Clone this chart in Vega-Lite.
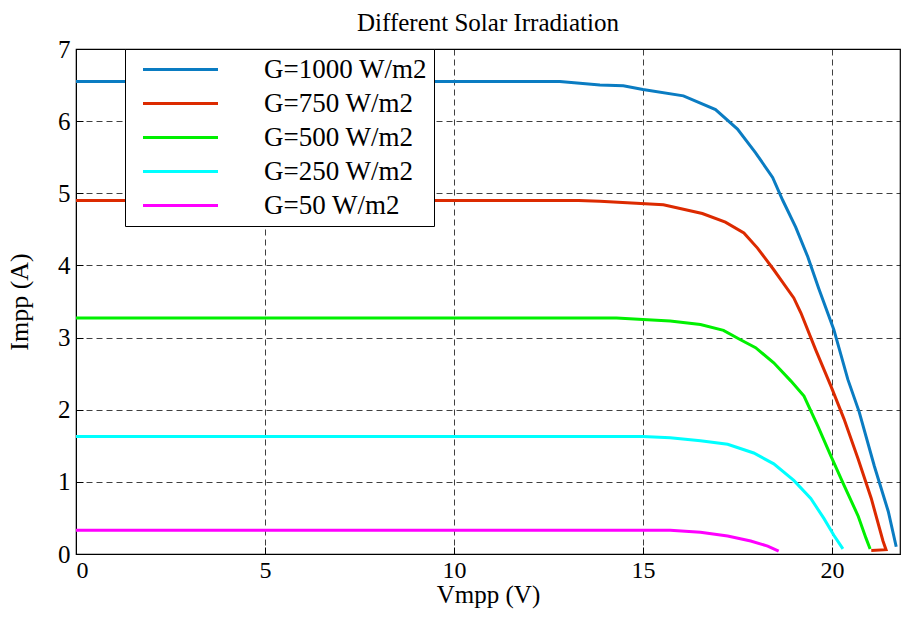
{
  "$schema": "https://vega.github.io/schema/vega-lite/v6.json",
  "width": 824,
  "height": 505,
  "autosize": {"type": "none"},
  "padding": {"left": 76, "top": 49, "right": 2, "bottom": 63},
  "background": "white",
  "config": {
    "font": "Liberation Serif",
    "view": {"stroke": "black", "strokeWidth": 1.2}
  },
  "title": {"text": "Different Solar Irradiation", "fontSize": 25, "font": "Liberation Serif", "fontWeight": "normal", "color": "black", "anchor": "middle", "frame": "group", "offset": 1},
  "data": {"values": [
    {"G":"G=1000 W/m2","order":0,"Vmpp":0,"Impp":6.55},
    {"G":"G=1000 W/m2","order":1,"Vmpp":5,"Impp":6.55},
    {"G":"G=1000 W/m2","order":2,"Vmpp":10,"Impp":6.55},
    {"G":"G=1000 W/m2","order":3,"Vmpp":12.8,"Impp":6.55},
    {"G":"G=1000 W/m2","order":4,"Vmpp":13.86,"Impp":6.5},
    {"G":"G=1000 W/m2","order":5,"Vmpp":14.48,"Impp":6.49},
    {"G":"G=1000 W/m2","order":6,"Vmpp":15.0,"Impp":6.44},
    {"G":"G=1000 W/m2","order":7,"Vmpp":16.07,"Impp":6.35},
    {"G":"G=1000 W/m2","order":8,"Vmpp":16.92,"Impp":6.16},
    {"G":"G=1000 W/m2","order":9,"Vmpp":17.5,"Impp":5.89},
    {"G":"G=1000 W/m2","order":10,"Vmpp":17.98,"Impp":5.56},
    {"G":"G=1000 W/m2","order":11,"Vmpp":18.43,"Impp":5.22},
    {"G":"G=1000 W/m2","order":12,"Vmpp":18.7,"Impp":4.9},
    {"G":"G=1000 W/m2","order":13,"Vmpp":19.04,"Impp":4.53},
    {"G":"G=1000 W/m2","order":14,"Vmpp":19.36,"Impp":4.12},
    {"G":"G=1000 W/m2","order":15,"Vmpp":19.65,"Impp":3.68},
    {"G":"G=1000 W/m2","order":16,"Vmpp":20.05,"Impp":3.11},
    {"G":"G=1000 W/m2","order":17,"Vmpp":20.42,"Impp":2.42},
    {"G":"G=1000 W/m2","order":18,"Vmpp":20.72,"Impp":1.97},
    {"G":"G=1000 W/m2","order":19,"Vmpp":21.12,"Impp":1.22},
    {"G":"G=1000 W/m2","order":20,"Vmpp":21.49,"Impp":0.59},
    {"G":"G=1000 W/m2","order":21,"Vmpp":21.7,"Impp":0.1},
    {"G":"G=750 W/m2","order":0,"Vmpp":0,"Impp":4.9},
    {"G":"G=750 W/m2","order":1,"Vmpp":10,"Impp":4.9},
    {"G":"G=750 W/m2","order":2,"Vmpp":13.3,"Impp":4.9},
    {"G":"G=750 W/m2","order":3,"Vmpp":13.86,"Impp":4.89},
    {"G":"G=750 W/m2","order":4,"Vmpp":15.54,"Impp":4.84},
    {"G":"G=750 W/m2","order":5,"Vmpp":16.57,"Impp":4.72},
    {"G":"G=750 W/m2","order":6,"Vmpp":17.18,"Impp":4.6},
    {"G":"G=750 W/m2","order":7,"Vmpp":17.67,"Impp":4.45},
    {"G":"G=750 W/m2","order":8,"Vmpp":18.03,"Impp":4.24},
    {"G":"G=750 W/m2","order":9,"Vmpp":18.46,"Impp":3.94},
    {"G":"G=750 W/m2","order":10,"Vmpp":18.65,"Impp":3.8},
    {"G":"G=750 W/m2","order":11,"Vmpp":18.99,"Impp":3.55},
    {"G":"G=750 W/m2","order":12,"Vmpp":19.18,"Impp":3.34},
    {"G":"G=750 W/m2","order":13,"Vmpp":19.57,"Impp":2.83},
    {"G":"G=750 W/m2","order":14,"Vmpp":19.97,"Impp":2.33},
    {"G":"G=750 W/m2","order":15,"Vmpp":20.32,"Impp":1.87},
    {"G":"G=750 W/m2","order":16,"Vmpp":20.69,"Impp":1.32},
    {"G":"G=750 W/m2","order":17,"Vmpp":21.04,"Impp":0.77},
    {"G":"G=750 W/m2","order":18,"Vmpp":21.35,"Impp":0.18},
    {"G":"G=750 W/m2","order":19,"Vmpp":21.43,"Impp":0.06},
    {"G":"G=750 W/m2","order":20,"Vmpp":21.04,"Impp":0.05},
    {"G":"G=500 W/m2","order":0,"Vmpp":0,"Impp":3.27},
    {"G":"G=500 W/m2","order":1,"Vmpp":10,"Impp":3.27},
    {"G":"G=500 W/m2","order":2,"Vmpp":14.3,"Impp":3.27},
    {"G":"G=500 W/m2","order":3,"Vmpp":15.0,"Impp":3.25},
    {"G":"G=500 W/m2","order":4,"Vmpp":15.72,"Impp":3.23},
    {"G":"G=500 W/m2","order":5,"Vmpp":16.52,"Impp":3.18},
    {"G":"G=500 W/m2","order":6,"Vmpp":17.13,"Impp":3.1},
    {"G":"G=500 W/m2","order":7,"Vmpp":17.58,"Impp":2.97},
    {"G":"G=500 W/m2","order":8,"Vmpp":17.98,"Impp":2.86},
    {"G":"G=500 W/m2","order":9,"Vmpp":18.46,"Impp":2.65},
    {"G":"G=500 W/m2","order":10,"Vmpp":18.91,"Impp":2.4},
    {"G":"G=500 W/m2","order":11,"Vmpp":19.26,"Impp":2.19},
    {"G":"G=500 W/m2","order":12,"Vmpp":19.63,"Impp":1.77},
    {"G":"G=500 W/m2","order":13,"Vmpp":19.97,"Impp":1.36},
    {"G":"G=500 W/m2","order":14,"Vmpp":20.32,"Impp":0.95},
    {"G":"G=500 W/m2","order":15,"Vmpp":20.69,"Impp":0.53},
    {"G":"G=500 W/m2","order":16,"Vmpp":20.9,"Impp":0.22},
    {"G":"G=500 W/m2","order":17,"Vmpp":21.01,"Impp":0.07},
    {"G":"G=250 W/m2","order":0,"Vmpp":0,"Impp":1.63},
    {"G":"G=250 W/m2","order":1,"Vmpp":10,"Impp":1.63},
    {"G":"G=250 W/m2","order":2,"Vmpp":15.0,"Impp":1.63},
    {"G":"G=250 W/m2","order":3,"Vmpp":15.72,"Impp":1.61},
    {"G":"G=250 W/m2","order":4,"Vmpp":16.52,"Impp":1.57},
    {"G":"G=250 W/m2","order":5,"Vmpp":17.24,"Impp":1.52},
    {"G":"G=250 W/m2","order":6,"Vmpp":17.93,"Impp":1.4},
    {"G":"G=250 W/m2","order":7,"Vmpp":18.46,"Impp":1.25},
    {"G":"G=250 W/m2","order":8,"Vmpp":18.99,"Impp":1.02},
    {"G":"G=250 W/m2","order":9,"Vmpp":19.44,"Impp":0.77},
    {"G":"G=250 W/m2","order":10,"Vmpp":19.79,"Impp":0.49},
    {"G":"G=250 W/m2","order":11,"Vmpp":20.05,"Impp":0.26},
    {"G":"G=250 W/m2","order":12,"Vmpp":20.29,"Impp":0.07},
    {"G":"G=50 W/m2","order":0,"Vmpp":0,"Impp":0.33},
    {"G":"G=50 W/m2","order":1,"Vmpp":10,"Impp":0.33},
    {"G":"G=50 W/m2","order":2,"Vmpp":15.72,"Impp":0.33},
    {"G":"G=50 W/m2","order":3,"Vmpp":16.52,"Impp":0.3},
    {"G":"G=50 W/m2","order":4,"Vmpp":17.24,"Impp":0.25},
    {"G":"G=50 W/m2","order":5,"Vmpp":17.85,"Impp":0.18},
    {"G":"G=50 W/m2","order":6,"Vmpp":18.3,"Impp":0.11},
    {"G":"G=50 W/m2","order":7,"Vmpp":18.59,"Impp":0.04}
  ]},
  "mark": {"type": "line", "strokeWidth": 3, "clip": true},
  "encoding": {
    "x": {
      "field": "Vmpp", "type": "quantitative",
      "scale": {"domain": [0, 21.8], "nice": false, "zero": false},
      "axis": {
        "title": "Vmpp (V)", "values": [0, 5, 10, 15, 20],
        "grid": true, "gridColor": "#000", "gridDash": [6, 4], "gridOpacity": 0.75, "gridWidth": 1,
        "domainColor": "black", "tickColor": "black", "tickSize": -7,
        "labelFontSize": 24, "labelColor": "black", "labelPadding": 11, "labelFont": "Liberation Serif",
        "titleFontSize": 25, "titleFontWeight": "normal", "titleColor": "black", "titlePadding": 0, "titleFont": "Liberation Serif"
      }
    },
    "y": {
      "field": "Impp", "type": "quantitative",
      "scale": {"domain": [0, 7], "nice": false},
      "axis": {
        "title": "Impp (A)", "values": [0, 1, 2, 3, 4, 5, 6, 7],
        "grid": true, "gridColor": "#000", "gridDash": [6, 4], "gridOpacity": 0.75, "gridWidth": 1,
        "domainColor": "black", "tickColor": "black", "tickSize": -7,
        "labelFontSize": 25, "labelColor": "black", "labelPadding": 13, "labelFont": "Liberation Serif",
        "titleFontSize": 26, "titleFontWeight": "normal", "titleColor": "black", "titlePadding": 25, "titleFont": "Liberation Serif"
      }
    },
    "color": {
      "field": "G", "type": "nominal",
      "scale": {
        "domain": ["G=1000 W/m2", "G=750 W/m2", "G=500 W/m2", "G=250 W/m2", "G=50 W/m2"],
        "range": ["#0a7cc2", "#dc2a00", "#00f000", "#00ffff", "#ff00ff"]
      },
      "legend": {
        "title": null, "orient": "none", "legendX": 49, "legendY": 0,
        "symbolType": "M-3.75,0H3.75", "symbolSize": 400, "symbolStrokeWidth": 3,
        "symbolOffset": 35, "labelOffset": 70,
        "labelFontSize": 27, "labelFont": "Liberation Serif", "labelColor": "black", "labelLimit": 400,
        "rowPadding": 6, "padding": 7,
        "fillColor": "white", "strokeColor": "black"
      }
    },
    "order": {"field": "order", "type": "quantitative"}
  }
}
